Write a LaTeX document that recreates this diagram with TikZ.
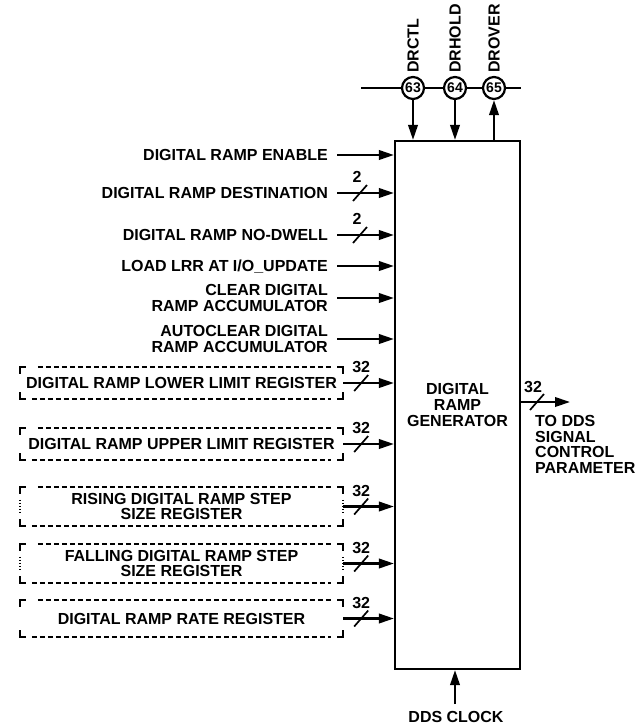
\documentclass[tikz,border=0pt]{standalone}
\usepackage{fontspec}
\setmainfont{Liberation Sans}
\usetikzlibrary{arrows.meta,calc}
\tikzset{
  lbl/.style={font=\fontsize{16}{15.8}\selectfont\bfseries, inner sep=0pt},
  arr/.style={line width=2.2pt, -{Triangle[length=15pt,width=9.5pt]}},
  ln/.style={line width=2.2pt},
  sl/.style={line width=1.7pt},
  dsh/.style={line width=1.9pt, dash pattern=on 5pt off 3pt},
  dot/.style={line width=1.9pt, dash pattern=on 1.5pt off 1.5pt},
  reg/.style={lbl, minimum width=323pt, align=center},
  pin/.style={circle, draw, line width=2.2pt, minimum size=22pt, inner sep=0pt, font=\fontsize{14}{14}\selectfont\bfseries},
}
\newcommand\regframe[1]{%
  \draw[ln] ([yshift=-7pt]#1.north west) -- (#1.north west) -- ([xshift=6pt]#1.north west);
  \draw[ln] ([yshift=-7pt]#1.north east) -- (#1.north east) -- ([xshift=-6pt]#1.north east);
  \draw[ln] ([yshift=7pt]#1.south west) -- (#1.south west) -- ([xshift=6pt]#1.south west);
  \draw[ln] ([yshift=7pt]#1.south east) -- (#1.south east) -- ([xshift=-6pt]#1.south east);
  \draw[dsh] ([xshift=18pt]#1.north west) -- ([xshift=-12pt]#1.north east);
  \draw[dsh] ([xshift=12pt]#1.south west) -- ([xshift=-12pt]#1.south east);
}
\newcommand\sidedots[1]{%
  \draw[dot] ([yshift=-13pt]#1.north west) -- ([yshift=13pt]#1.south west);
  \draw[dot] ([yshift=-13pt]#1.north east) -- ([yshift=13pt]#1.south east);
}
\begin{document}
\begin{tikzpicture}[x=1pt,y=-1pt]
\useasboundingbox (0,0) rectangle (637,726);

% main block
\node[draw, line width=2.2pt, minimum width=125pt, minimum height=528pt, lbl, align=center] (main) at (457.5,405) {DIGITAL\\RAMP\\GENERATOR};

% top pins
\coordinate (busL) at (361,88);
\coordinate (busR) at (521,88);
\node[pin] (p63) at (413,88) {63};
\node[pin] (p64) at (455,88) {64};
\node[pin] (p65) at (494,88) {65};
\draw[ln] (busL) -- (p63) -- (p64) -- (p65) -- (busR);
\draw[arr] (p63) -- (p63 |- main.north);
\draw[arr] (p64) -- (p64 |- main.north);
\draw[arr] (p65 |- main.north) -- (p65);
\node[lbl, rotate=90, anchor=west] (tDRCTL) at (413,73) {DRCTL};
\node[lbl, rotate=90, anchor=west] (tDRHOLD) at (455,73) {DRHOLD};
\node[lbl, rotate=90, anchor=west] (tDROVER) at (494,73) {DROVER};

% simple inputs
\node[lbl, anchor=east] (en) at (328,155) {DIGITAL RAMP ENABLE};
\node[lbl, anchor=east] (dst) at (328,193) {DIGITAL RAMP DESTINATION};
\node[lbl, anchor=east] (ndw) at (328,235) {DIGITAL RAMP NO-DWELL};
\node[lbl, anchor=east, text depth=0pt] (lrr) at (328,266) {LOAD LRR AT I/O\_UPDATE};
\node[lbl, anchor=east, align=right] (clr) at (328,298) {CLEAR DIGITAL\\RAMP ACCUMULATOR};
\node[lbl, anchor=east, align=right] (acl) at (328,339) {AUTOCLEAR DIGITAL\\RAMP ACCUMULATOR};
\foreach \n in {en,dst,ndw,lrr,clr,acl}
  \draw[arr] ([xshift=9pt]\n.east) -- (\n.east -| main.west);
\draw[sl] ($(dst.east)+(25,8)$) -- ($(dst.east)+(39,-8)$);
\node[lbl] (dstw) at ($(dst.east)+(29,-16)$) {2};
\draw[sl] ($(ndw.east)+(25,8)$) -- ($(ndw.east)+(39,-8)$);
\node[lbl] (ndww) at ($(ndw.east)+(29,-16)$) {2};

% registers
\node[reg, minimum height=32pt] (r1) at (181.5,383) {DIGITAL RAMP LOWER LIMIT REGISTER};
\node[reg, minimum height=32pt] (r2) at (181.5,444) {DIGITAL RAMP UPPER LIMIT REGISTER};
\node[reg, minimum height=39pt] (r3) at (181.5,506.5) {RISING DIGITAL RAMP STEP\\SIZE REGISTER};
\node[reg, minimum height=39pt] (r4) at (181.5,563.5) {FALLING DIGITAL RAMP STEP\\SIZE REGISTER};
\node[reg, minimum height=37pt] (r5) at (181.5,618.5) {DIGITAL RAMP RATE REGISTER};
\foreach \n in {r1,r2,r3,r4,r5}{
  \regframe{\n}
  \draw[arr] (\n.east) -- (\n.east -| main.west);
  \draw[sl] ($(\n.east)+(11,8)$) -- ($(\n.east)+(25,-8)$);
  \node[lbl] at ($(\n.east)+(18,-16)$) {32};
}
\sidedots{r3}
\sidedots{r4}

% output
\coordinate (out) at (570,402);
\draw[arr] (main.east |- out) -- (out);
\draw[sl] (530,410) -- (544,394);
\node[lbl] (outw) at (533,387) {32};
\node[lbl, align=left, anchor=north west] (outtxt) at (535,415) {TO DDS\\SIGNAL\\CONTROL\\PARAMETER};

% clock
\coordinate (clk) at (455,704);
\draw[arr] (clk) -- (clk |- main.south);
\node[lbl] (clktxt) at (456,717) {DDS CLOCK};
\end{tikzpicture}
\end{document}
